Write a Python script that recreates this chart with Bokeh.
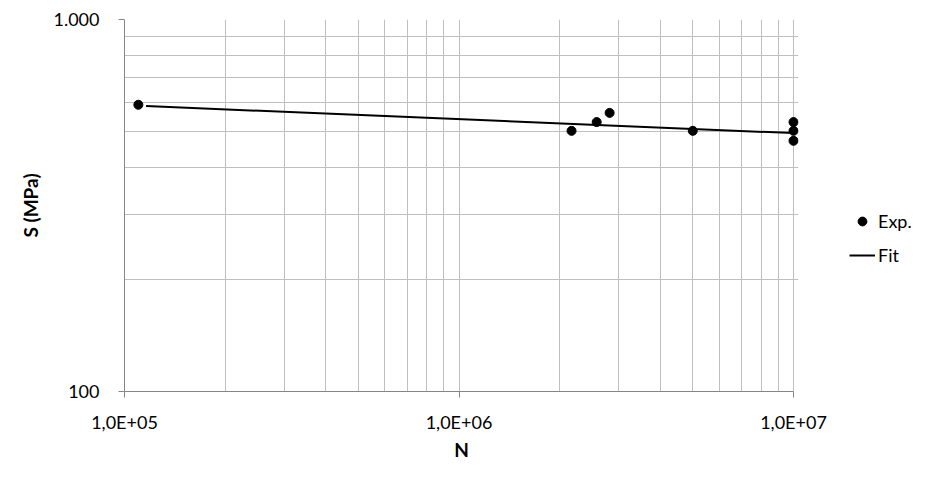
from bokeh.plotting import figure
from bokeh.layouts import row
from bokeh.models import Range1d, FixedTicker, Legend, LegendItem
from bokeh.embed import file_html
from bokeh.resources import INLINE

# Experimental data (fatigue: cycles N vs stress S)
N_exp = [1.1e5, 2.17e6, 2.58e6, 2.82e6, 5.0e6, 1.0e7, 1.0e7, 1.0e7]
S_exp = [590, 502, 530, 561, 502, 530, 502, 472]

# Fit line endpoints
N_fit = [1.16e5, 1.0e7]
S_fit = [585, 495]

x_major = [100000, 1000000, 10000000]
x_minor = [200000, 300000, 400000, 500000, 600000, 700000, 800000, 900000,
           2000000, 3000000, 4000000, 5000000, 6000000, 7000000, 8000000, 9000000]
x_labels = {100000: "1,0E+05", 1000000: "1,0E+06", 10000000: "1,0E+07"}
y_major = [100, 1000]
y_minor = [200, 300, 400, 500, 600, 700, 800, 900]
y_labels = {100: "100", 1000: "1.000"}

FONT = "Lato"
GRID = "#bfbfbf"
AXIS = "#868686"

# x range padded a hair past 1e7 so the edge markers are not cut in half
p = figure(width=830, height=463, x_axis_type="log", y_axis_type="log",
           x_range=Range1d(1e5, 1.035e7), y_range=Range1d(100, 1000),
           output_backend="svg", toolbar_location=None,
           min_border_left=124, min_border_right=32,
           min_border_top=19, min_border_bottom=71)
p.outline_line_color = None
p.background_fill_color = "white"
p.border_fill_color = "white"

p.xaxis.ticker = FixedTicker(ticks=x_major, minor_ticks=x_minor)
p.yaxis.ticker = FixedTicker(ticks=y_major, minor_ticks=y_minor)
p.xaxis.major_label_overrides = x_labels
p.yaxis.major_label_overrides = y_labels
p.xaxis.bounds = (1e5, 1e7)

for ax in (p.xaxis[0], p.yaxis[0]):
    ax.axis_line_color = AXIS
    ax.major_tick_line_color = AXIS
    ax.major_tick_out = 6
    ax.major_tick_in = 0
    ax.minor_tick_out = 0
    ax.minor_tick_in = 0
    ax.major_label_text_font = FONT
    ax.major_label_text_font_size = "18px"
    ax.major_label_text_color = "#000000"
    ax.axis_label_text_font = FONT
    ax.axis_label_text_font_size = "19px"
    ax.axis_label_text_font_style = "bold"
    ax.axis_label_text_color = "#000000"

p.xaxis.axis_label = "N"
p.yaxis.axis_label = "S (MPa)"
p.xaxis.major_label_standoff = 13
p.yaxis.major_label_standoff = 19
p.xaxis.axis_label_standoff = 2
p.yaxis.axis_label_standoff = 8

for g in (p.xgrid[0], p.ygrid[0]):
    g.grid_line_color = GRID
    g.minor_grid_line_color = GRID
    g.grid_line_width = 1
    g.minor_grid_line_width = 1

p.line(N_fit, S_fit, line_color="black", line_width=2)
p.scatter(N_exp, S_exp, size=9, fill_color="black", line_color="black")

# Legend panel (a narrow figure to the right of the plot)
q = figure(width=82, height=463, x_range=Range1d(0, 1), y_range=Range1d(0, 1),
           output_backend="svg", toolbar_location=None,
           x_axis_location=None, y_axis_location=None,
           min_border_left=0, min_border_right=0,
           min_border_top=0, min_border_bottom=0)
q.outline_line_color = None
q.grid.visible = False
q.background_fill_color = "white"
q.border_fill_color = "white"
lr_fit = q.line(N_fit, S_fit, line_color="black", line_width=2)
lr_exp = q.scatter(N_exp, S_exp, size=9, fill_color="black", line_color="black")

legend = Legend(items=[LegendItem(label="Exp.", renderers=[lr_exp]),
                       LegendItem(label="Fit", renderers=[lr_fit])],
                location=(19, 125), orientation="vertical",
                border_line_color=None, background_fill_alpha=0,
                padding=0, margin=0, spacing=12,
                glyph_width=26, glyph_height=22, label_height=22,
                label_width=34, label_standoff=3,
                label_text_font=FONT, label_text_font_size="18px",
                label_text_color="#000000")
q.add_layout(legend, "center")

layout = row(p, q, spacing=0)
open("out.html", "w").write(file_html(layout, INLINE))
